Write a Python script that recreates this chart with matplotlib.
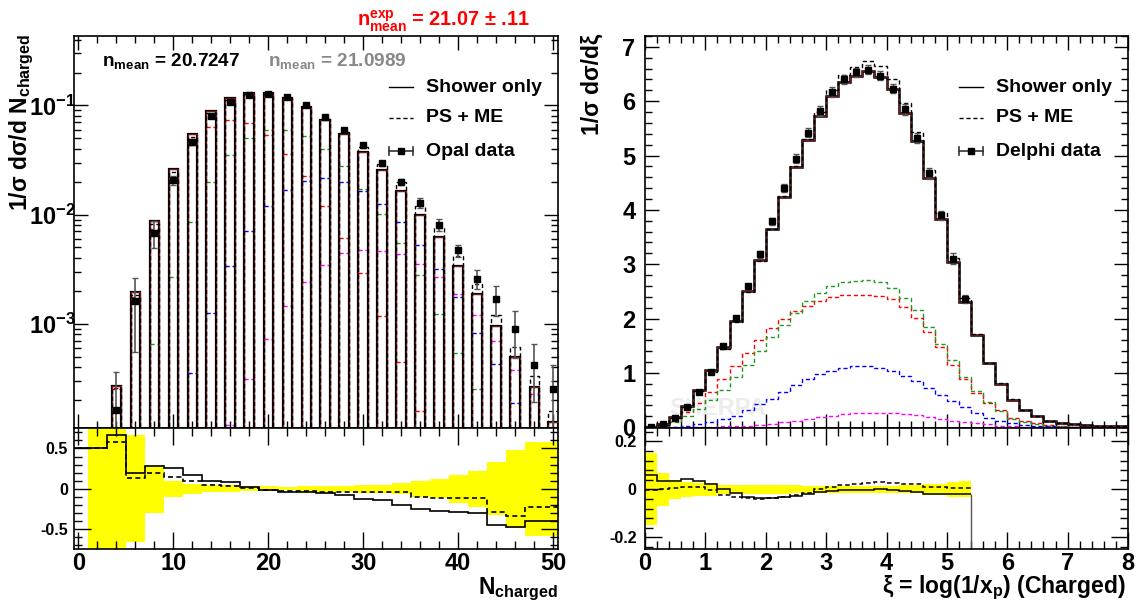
import numpy as np
import matplotlib
matplotlib.use('Agg')
import matplotlib.pyplot as plt
from matplotlib.lines import Line2D
from matplotlib.ticker import MultipleLocator, FixedLocator, FuncFormatter, LogLocator, NullFormatter

plt.rcParams['font.family'] = ['Liberation Sans', 'DejaVu Sans']
plt.rcParams['font.weight'] = 'bold'
plt.rcParams['mathtext.fontset'] = 'custom'
plt.rcParams['mathtext.rm'] = 'Liberation Sans:bold'
plt.rcParams['mathtext.it'] = 'Liberation Sans:bold'
plt.rcParams['mathtext.bf'] = 'Liberation Sans:bold'
plt.rcParams['mathtext.sf'] = 'Liberation Sans:bold'
plt.rcParams['mathtext.default'] = 'rm'
plt.rcParams['axes.unicode_minus'] = False

nan = np.nan

# ---------------- charged multiplicity (Opal) ----------------
n_ch = [4, 6, 8, 10, 12, 14, 16, 18, 20, 22, 24, 26, 28, 30, 32, 34, 36, 38, 40, 42, 44, 46, 48, 50]
shower_nch = [2.69e-4, 1.95e-3, 8.8e-3, 0.0264, 0.0548, 0.0892, 0.1175, 0.129, 0.129, 0.116, 0.096, 0.0733,
              0.0553, 0.0375, 0.0258, 0.0166, 0.0100, 0.0062, 0.00341, 0.00187, 9.6e-4, 4.97e-4, 2.63e-4, 1.26e-4]
psme_nch = [2.55e-4, 1.84e-3, 8.18e-3, 0.0244, 0.0513, 0.085, 0.112, 0.127, 0.129, 0.117, 0.0975, 0.0745,
            0.0577, 0.0414, 0.0290, 0.0199, 0.0119, 0.0075, 0.00418, 0.0023, 1.2e-3, 6.1e-4, 3.35e-4, 1.6e-4]
opal = [1.61e-4, 1.60e-3, 6.8e-3, 0.0206, 0.0467, 0.0798, 0.107, 0.126, 0.128, 0.1186, 0.1006, 0.078,
        0.0593, 0.0432, 0.0295, 0.0199, 0.0129, 0.00807, 0.00471, 0.00259, 0.0017, 8.9e-4, 4.2e-4, 2.5e-4]
opal_err = [2.0e-4, 1.05e-3, 1.9e-3, 2.1e-3, 3.0e-3, 3.6e-3, 4.8e-3, 3.8e-3, 3.8e-3, 2.4e-3, 4.0e-3, 3.1e-3,
            2.1e-3, 2.2e-3, 1.5e-3, 1.4e-3, 1.3e-3, 9.7e-4, 6.0e-4, 5.0e-4, 5.3e-4, 4.1e-4, 2.3e-4, 1.7e-4]
red_nch = [2.5e-4, 1.76e-3, 7.4e-3, 0.021, 0.043, 0.063, 0.0728, 0.0684, 0.0533, 0.0362, 0.0224, 0.0121,
           6.1e-3, 2.9e-3, 1.18e-3, 4.5e-4, 1.6e-4, nan, nan, nan, nan, nan, nan, nan]
green_nch = [nan, nan, 6.46e-4, 2.7e-3, 8.6e-3, 0.0199, 0.0351, 0.0508, 0.0593, 0.0593, 0.0523, 0.0403,
             0.0279, 0.0173, 0.0101, 5.47e-3, 2.78e-3, 1.22e-3, 5.4e-4, 2.5e-4, nan, nan, nan, nan]
blue_nch = [nan, nan, nan, nan, 3.5e-4, 1.26e-3, 3.4e-3, 7.1e-3, 0.0119, 0.0169, 0.0203, 0.0216,
            0.0197, 0.0166, 0.0124, 8.6e-3, 5.3e-3, 3.18e-3, 1.77e-3, 8.3e-4, 4.3e-4, 1.87e-4, nan, nan]
mag_nch = [nan, nan, nan, nan, nan, nan, 1.18e-4, 3.1e-4, 7.3e-4, 1.46e-3, 2.4e-3, 3.46e-3,
           4.4e-3, 4.75e-3, 4.66e-3, 4.37e-3, 3.5e-3, 2.69e-3, 1.87e-3, 1.2e-3, 7.0e-4, 3.8e-4, 2.26e-4, nan]

# ratio (MC - data)/data, bins of width 2 centred on 0, 2, ..., 50
ratio_nch_edges = list(range(-1, 52, 2))
ratio_shower_nch = [0.5, 0.5, 0.67, 0.20, 0.28, 0.26, 0.175, 0.10, 0.08, 0.025, -0.01, -0.035, -0.04,
                    -0.055, -0.08, -0.13, -0.145, -0.2, -0.245, -0.275, -0.29, -0.3, -0.45, -0.47, -0.4, -0.4]
ratio_psme_nch = [0.5, 0.5, 0.58, 0.13, 0.19, 0.145, 0.10, 0.05, 0.03, 0.01, -0.01, -0.025, -0.025,
                  -0.04, -0.04, -0.04, -0.04, -0.04, -0.1, -0.12, -0.12, -0.12, -0.29, -0.335, -0.22, -0.22]
band_nch = [0, 1.0, 1.0, 0.665, 0.30, 0.10, 0.065, 0.045, 0.045, 0.03, 0.03, 0.02, 0.04,
            0.04, 0.035, 0.05, 0.05, 0.07, 0.10, 0.12, 0.17, 0.22, 0.33, 0.48, 0.58, 0.58]

# ---------------- xi = log(1/x_p) (Delphi) ----------------
xi_edges = np.linspace(0, 8, 41)
shower_xi = [0.01, 0.05, 0.18, 0.39, 0.68, 1.05, 1.48, 1.96, 2.50, 3.07, 3.64, 4.24, 4.78, 5.28, 5.73, 6.09,
             6.35, 6.47, 6.56, 6.45, 6.23, 5.79, 5.26, 4.58, 3.83, 3.04, 2.31, 1.70, 1.18, 0.80, 0.51, 0.31,
             0.20, 0.12, 0.08, 0.055, 0.04, 0.025, 0.02, 0.015]
psme_xi = [0.01, 0.048, 0.175, 0.377, 0.665, 1.02, 1.44, 1.93, 2.49, 3.06, 3.64, 4.25, 4.80, 5.31, 5.81, 6.20,
           6.48, 6.63, 6.74, 6.65, 6.41, 5.96, 5.43, 4.73, 3.95, 3.11, 2.37, 1.72, 1.19, 0.81, 0.52, 0.32,
           0.20, 0.12, 0.08, 0.055, 0.04, 0.025, 0.02, 0.015]
red_xi = [0.0, 0.04, 0.12, 0.28, 0.44, 0.64, 0.88, 1.13, 1.37, 1.61, 1.82, 1.99, 2.13, 2.23, 2.33, 2.39,
          2.43, 2.44, 2.44, 2.42, 2.36, 2.22, 2.01, 1.76, 1.47, 1.15, 0.89, 0.63, 0.45, 0.31, 0.17, 0.11,
          0.07, 0.04, 0.02, 0.01, 0.01, 0.005, 0.003, 0.002]
green_xi = [0.0, 0.02, 0.1, 0.21, 0.34, 0.5, 0.69, 0.92, 1.15, 1.40, 1.66, 1.89, 2.10, 2.32, 2.47, 2.60,
            2.67, 2.70, 2.71, 2.67, 2.56, 2.38, 2.15, 1.84, 1.53, 1.23, 0.92, 0.67, 0.46, 0.29, 0.15, 0.10,
            0.06, 0.03, 0.02, 0.01, 0.005, 0.003, 0.002, 0.001]
blue_xi = [0.0, 0.0, 0.01, 0.02, 0.05, 0.09, 0.15, 0.21, 0.32, 0.42, 0.52, 0.64, 0.77, 0.88, 0.98, 1.04,
           1.09, 1.12, 1.12, 1.09, 1.03, 0.95, 0.85, 0.72, 0.60, 0.48, 0.37, 0.26, 0.17, 0.11, 0.07, 0.04,
           0.025, 0.015, 0.01, 0.005, 0.003, 0.002, 0.001, 0.001]
mag_xi = [0, 0, 0, 0, 0.005, 0.01, 0.015, 0.02, 0.03, 0.04, 0.06, 0.09, 0.12, 0.15, 0.18, 0.21,
          0.24, 0.26, 0.27, 0.27, 0.26, 0.24, 0.22, 0.19, 0.16, 0.12, 0.09, 0.07, 0.05, 0.03, 0.02, 0.012,
          0.008, 0.005, 0.003, 0.002, 0.001, 0.001, 0, 0]
delphi = [0.01, 0.05, 0.17, 0.37, 0.65, 1.02, 1.49, 2.01, 2.59, 3.18, 3.79, 4.40, 4.94, 5.42, 5.82, 6.17,
          6.40, 6.53, 6.58, 6.47, 6.23, 5.85, 5.33, 4.67, 3.90, 3.10, 2.36]
delphi_err = [0.0015, 0.0035, 0.0065, 0.012, 0.018, 0.026, 0.03, 0.036, 0.047, 0.057, 0.066, 0.077, 0.084,
              0.087, 0.087, 0.093, 0.083, 0.085, 0.086, 0.084, 0.081, 0.099, 0.091, 0.103, 0.086, 0.102, 0.078]
ratio_shower_xi = [0.061, 0.035, 0.035, 0.045, 0.033, 0.024, 0.0, -0.015, -0.03, -0.036, -0.036, -0.032,
                   -0.028, -0.021, -0.011, -0.008, -0.004, -0.001, -0.001, 0.0, -0.001, -0.006, -0.011,
                   -0.021, -0.021, -0.018, -0.018]
ratio_psme_xi = [-0.004, 0.003, 0.006, 0.01, 0.01, -0.004, -0.025, -0.03, -0.035, -0.039, -0.036, -0.03,
                 -0.024, -0.015, 0.003, 0.01, 0.017, 0.024, 0.026, 0.031, 0.028, 0.024, 0.021, 0.01,
                 0.01, 0.006, 0.006]

W, H = 1137, 606
def fx(x): return x / W
def fy(y): return 1 - y / H

DARKRED = '#7a1414'
GREEN = '#1f9a1f'
LX0, LX1 = 73.5, 558      # left frame in pixels
RX0, RX1 = 645, 1128      # right frame in pixels
YT, YM, YB = 36, 428.3, 549.3

def root_ticks(ax, maj=10, mnr=5):
    ax.tick_params(which='both', direction='in', top=True, right=True, width=1.0)
    ax.tick_params(which='major', length=maj)
    ax.tick_params(which='minor', length=mnr)
    for s in ax.spines.values():
        s.set_linewidth(1.2)

fig = plt.figure(figsize=(W / 100, H / 100), dpi=100)

# ===== left top: multiplicity =====
axL = fig.add_axes([fx(LX0), fy(YM), fx(LX1) - fx(LX0), fy(YT) - fy(YM)])
axL.set_yscale('log', nonpositive='clip')
n_arr = np.array(n_ch)
axL.bar(n_arr, shower_nch, width=1, bottom=1e-7, fill=False, edgecolor='black', lw=1.6, zorder=3)
axL.bar(n_arr, shower_nch, width=1, bottom=1e-7, fill=False, edgecolor=DARKRED, lw=0.9, zorder=4)
axL.bar(n_arr, psme_nch, width=1, bottom=1e-7, fill=False, edgecolor='black', lw=1.0,
        linestyle=(0, (3, 2)), zorder=5)
for vals, col in [(red_nch, 'red'), (green_nch, GREEN), (blue_nch, 'blue'), (mag_nch, 'magenta')]:
    axL.hlines(vals, n_arr - 0.5, n_arr + 0.5, colors=col, linestyles=(0, (3, 2)), lw=1.0, zorder=2)
axL.errorbar(n_arr, opal, yerr=opal_err, fmt='s', color='black', ms=5, ecolor='#555555',
             elinewidth=1.2, capsize=2.5, capthick=1.0, zorder=6)
axL.set_xlim(-0.5, 50.5)
axL.set_ylim(1.1e-4, 0.433)
axL.xaxis.set_major_locator(MultipleLocator(10))
axL.xaxis.set_minor_locator(MultipleLocator(2))
axL.set_xticklabels([])
axL.yaxis.set_major_locator(LogLocator(base=10, numticks=10))
axL.yaxis.set_minor_locator(LogLocator(base=10, subs=np.arange(2, 10), numticks=20))
axL.yaxis.set_minor_formatter(NullFormatter())
axL.yaxis.set_major_formatter(FuncFormatter(lambda v, p: r'$10^{%d}$' % round(np.log10(v))))
axL.tick_params(axis='y', labelsize=17, pad=-2)
root_ticks(axL)
axL.text(148, 1.6e-4, 'SHERPA', color='#ececec', fontsize=17, ha='center', va='center', zorder=0)

# ===== left ratio =====
axLr = fig.add_axes([fx(LX0), fy(YB), fx(LX1) - fx(LX0), fy(YM) - fy(YB)])
band_nch = np.array(band_nch)
axLr.stairs(band_nch, ratio_nch_edges, baseline=-band_nch, fill=True, color='#ffff00', lw=0)
axLr.stairs(ratio_shower_nch, ratio_nch_edges, color='black', lw=1.2, baseline=None)
axLr.stairs(ratio_psme_nch, ratio_nch_edges, color='black', lw=1.2, linestyle=(0, (3, 2)), baseline=None)
axLr.set_xlim(-0.5, 50.5)
axLr.set_ylim(-0.75, 0.75)
axLr.xaxis.set_major_locator(MultipleLocator(10))
axLr.xaxis.set_minor_locator(MultipleLocator(2))
axLr.yaxis.set_major_locator(FixedLocator([-0.5, 0, 0.5]))
axLr.yaxis.set_major_formatter(FuncFormatter(lambda v, p: '0' if v == 0 else '%g' % v))
axLr.yaxis.set_minor_locator(MultipleLocator(0.1))
axLr.tick_params(axis='x', labelsize=17, pad=2)
axLr.tick_params(axis='y', labelsize=11.5, pad=4)
root_ticks(axLr, maj=12, mnr=6)

# ===== right top: xi =====
axR = fig.add_axes([fx(RX0), fy(YM), fx(RX1) - fx(RX0), fy(YT) - fy(YM)])
for vals, col in [(red_xi, 'red'), (green_xi, GREEN), (blue_xi, 'blue'), (mag_xi, 'magenta')]:
    axR.stairs(vals, xi_edges, color=col, lw=1.0, linestyle=(0, (3, 2)), baseline=None, zorder=2)
axR.stairs(shower_xi, xi_edges, color='black', lw=1.8, baseline=None, zorder=3)
axR.stairs(shower_xi, xi_edges, color=DARKRED, lw=0.8, baseline=None, zorder=4)
axR.stairs(psme_xi, xi_edges, color='black', lw=1.0, linestyle=(0, (3, 2)), baseline=None, zorder=5)
xi_c = 0.5 * (xi_edges[:-1] + xi_edges[1:])
n_d = len(delphi)
axR.errorbar(xi_c[:n_d], delphi, yerr=delphi_err, fmt='s', color='black', ms=5, ecolor='#555555',
             elinewidth=1.0, capsize=2.5, capthick=1.0, zorder=6)
axR.set_xlim(0, 8)
axR.set_ylim(-0.02, 7.2)
axR.xaxis.set_major_locator(MultipleLocator(1))
axR.xaxis.set_minor_locator(MultipleLocator(0.2))
axR.set_xticklabels([])
axR.yaxis.set_major_locator(MultipleLocator(1))
axR.yaxis.set_minor_locator(MultipleLocator(0.2))
axR.tick_params(axis='y', labelsize=17, pad=7)
root_ticks(axR)
axR.text(1.2, 0.35, 'SHERPA', color='#ececec', fontsize=17, ha='center', va='center', zorder=0)

# ===== right ratio =====
axRr = fig.add_axes([fx(RX0), fy(YB), fx(RX1) - fx(RX0), fy(YM) - fy(YB)])
band_xi = np.array(delphi_err) / np.array(delphi)
axRr.stairs(band_xi, xi_edges[:n_d + 1], baseline=-band_xi, fill=True, color='#ffff00', lw=0)
axRr.stairs(ratio_shower_xi, xi_edges[:n_d + 1], color='black', lw=1.1, baseline=None)
axRr.stairs(ratio_psme_xi, xi_edges[:n_d + 1], color='black', lw=1.1, linestyle=(0, (3, 2)), baseline=None)
axRr.vlines(xi_edges[n_d], -1, ratio_shower_xi[-1], color='#555555', lw=1.0)
axRr.set_xlim(0, 8)
axRr.set_ylim(-0.25, 0.255)
axRr.xaxis.set_major_locator(MultipleLocator(1))
axRr.xaxis.set_minor_locator(MultipleLocator(0.2))
axRr.yaxis.set_major_locator(FixedLocator([-0.2, 0, 0.2]))
axRr.yaxis.set_major_formatter(FuncFormatter(lambda v, p: '0' if v == 0 else '%g' % v))
axRr.yaxis.set_minor_locator(MultipleLocator(0.04))
axRr.tick_params(axis='x', labelsize=17, pad=2)
axRr.tick_params(axis='y', labelsize=11.5, pad=6)
root_ticks(axRr, maj=12, mnr=6)

# ===== titles and labels =====
fig.text(fx(22), fy(34), r'1/σ dσ/d N$_{charged}$', rotation=90, ha='center', va='top', fontsize=16.5)
fig.text(fx(592), fy(34), '1/σ dσ/dξ', rotation=90, ha='center', va='top', fontsize=16.5)
fig.text(fx(LX1), fy(576), r'N$_{charged}$', ha='right', va='top', fontsize=16.5)
fig.text(fx(RX1 - 2), fy(574), r'ξ = log(1/x$_{p}$) (Charged)', ha='right', va='top', fontsize=16.5)
fig.text(fx(357), fy(26), r'n$^{exp}_{mean}$ = 21.07 ± .11', color='red', fontsize=14.3, va='baseline')
fig.text(fx(102), fy(66), r'n$_{mean}$ = 20.7247', fontsize=13.7, va='baseline')
fig.text(fx(268), fy(66), r'n$_{mean}$ = 21.0989', color='#888888', fontsize=13.7, va='baseline')

# ===== legends =====
def legend(x0, x1, xt, labels):
    ys = [87, 118, 151]
    fig.add_artist(Line2D([fx(x0), fx(x1)], [fy(ys[0])] * 2, color='black', lw=1.0))
    fig.add_artist(Line2D([fx(x0), fx(x1)], [fy(ys[1])] * 2, color='black', lw=1.0, linestyle=(0, (3, 2))))
    fig.add_artist(Line2D([fx(x0), fx(x1)], [fy(ys[2])] * 2, color='#333333', lw=1.2))
    for xe in (x0, x1):
        fig.add_artist(Line2D([fx(xe)] * 2, [fy(ys[2] - 4), fy(ys[2] + 4)], color='#333333', lw=1.2))
    fig.add_artist(Line2D([fx((x0 + x1) / 2)], [fy(ys[2])], marker='s', ms=5, color='black', lw=0))
    for y, lab in zip(ys, labels):
        fig.text(fx(xt), fy(y), lab, fontsize=14, va='center', ha='left')

legend(389, 413, 426, ['Shower only', 'PS + ME', 'Opal data'])
legend(959, 983, 996, ['Shower only', 'PS + ME', 'Delphi data'])

fig.savefig('out.png', dpi=100)
